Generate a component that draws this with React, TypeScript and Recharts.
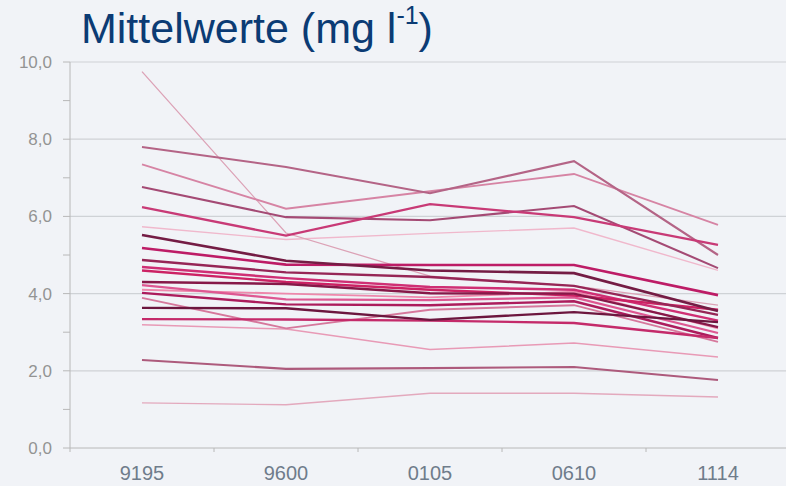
import { LineChart, Line, XAxis, YAxis, ReferenceLine } from 'recharts';

const periods = ['9195', '9600', '0105', '0610', '1114'];
const yTicks = [0, 1, 2, 3, 4, 5, 6, 7, 8, 9, 10];
const gridValues = [2, 4, 6, 8, 10];

// one array per station, values at the five periods
const st01 = [9.75, 5.57, 4.45, 4.2, 3.7];
const st02 = [7.8, 7.28, 6.6, 7.43, 5.0];
const st03 = [7.35, 6.2, 6.65, 7.1, 5.78];
const st04 = [6.76, 5.98, 5.9, 6.27, 4.66];
const st05 = [6.24, 5.5, 6.32, 5.98, 5.26];
const st06 = [5.73, 5.4, 5.56, 5.7, 4.6];
const st07 = [5.52, 4.85, 4.6, 4.53, 3.55];
const st08 = [5.18, 4.75, 4.74, 4.74, 3.96];
const st09 = [4.87, 4.55, 4.43, 4.2, 3.45];
const st10 = [4.69, 4.4, 4.17, 4.1, 3.3];
const st11 = [4.3, 4.25, 4.01, 4.0, 3.13];
const st12 = [4.22, 3.85, 3.83, 3.9, 2.98];
const st13 = [4.02, 3.72, 3.7, 3.8, 2.85];
const st14 = [3.89, 3.1, 3.58, 3.7, 2.75];
const st15 = [3.63, 3.62, 3.32, 3.52, 3.26];
const st16 = [3.34, 3.33, 3.3, 3.24, 2.85];
const st17 = [3.19, 3.08, 2.55, 2.72, 2.36];
const st18 = [2.28, 2.05, 2.07, 2.1, 1.76];
const st19 = [1.17, 1.12, 1.42, 1.42, 1.32];
const st20 = [4.6, 4.3, 4.1, 3.95, 3.58];
const st21 = [4.1, 4.0, 3.9, 4.05, 3.1];

const series = [st19, st17, st06, st01, st21, st03, st14, st12, st18, st02, st04, st05,
  st10, st20, st13, st16, st08, st09, st11, st07, st15];

const colors = ['#e3a9bd', '#e89ab6', '#f0b8cc', '#dca2b6', '#ee88ac', '#d684a4', '#d6789c',
  '#de5892', '#ad5a7c', '#b46486', '#a44a74', '#c83a76', '#cf2f74', '#cc2264', '#ac1c5c',
  '#c42a6a', '#bd1c66', '#962656', '#861848', '#741c44', '#6c163e'];
const widths = [1.4, 1.5, 1.4, 1.3, 1.8, 1.9, 1.9, 2.2, 2.1, 2.1, 2.1, 2.3, 2.4, 2.4, 2.4, 2.4, 2.6, 2.4, 2.4, 2.6, 2.4];

const data = periods.map((p, i) => {
  const row: any = { period: p };
  series.forEach((s, k) => { row['s' + k] = s[i]; });
  return row;
});

const HALF_BAND = 72;

function PeriodTick(props: any) {
  const { x, y, payload } = props;
  return (
    <g>
      <line x1={x - HALF_BAND} y1={y - 8} x2={x - HALF_BAND} y2={y - 4} stroke="#b8b8b8" />
      <text x={x} y={y + 24} textAnchor="middle" fontSize={20} fill="#6f7c8b"
        fontFamily="'Liberation Sans', Arial, sans-serif">{payload.value}</text>
    </g>
  );
}

export default function App() {
  return (
    <div style={{ position: 'absolute', top: 0, left: 0, width: 786, height: 486, overflow: 'hidden', background: '#f1f3f7' }}>
      <div style={{ position: 'absolute', left: 81, top: 7, fontSize: 43, lineHeight: '43px', color: '#0b3b74',
        fontFamily: "'Liberation Sans', Arial, sans-serif", whiteSpace: 'nowrap' }}>
        Mittelwerte (mg l<span style={{ fontSize: '0.58em', position: 'relative', top: '-0.75em' }}>-1</span>)
      </div>
      <LineChart width={800} height={486} data={data} margin={{ top: 62, right: 10, left: 8, bottom: 0 }}>
        {gridValues.map((v) => (
          <ReferenceLine key={v} y={v} stroke="#cfd2d6" strokeWidth={1.2} />
        ))}
        <XAxis dataKey="period" scale="band" height={38} axisLine={{ stroke: '#b8b8b8' }} tickLine={false}
          tick={<PeriodTick />} interval={0} />
        <YAxis type="number" domain={[0, 10]} ticks={yTicks} width={62} interval={0}
          axisLine={{ stroke: '#b8b8b8' }} tickLine={{ stroke: '#b8b8b8' }} tickSize={7} tickMargin={11}
          tick={{ fontSize: 17, fill: '#939393', fontFamily: "'Liberation Sans', Arial, sans-serif" }}
          tickFormatter={(v: number) => (v % 2 === 0 ? v.toFixed(1).replace('.', ',') : '')} />
        {series.map((s, k) => (
          <Line key={k} dataKey={'s' + k} stroke={colors[k]} strokeWidth={widths[k]} dot={false}
            isAnimationActive={false} type="linear" />
        ))}
      </LineChart>
    </div>
  );
}
